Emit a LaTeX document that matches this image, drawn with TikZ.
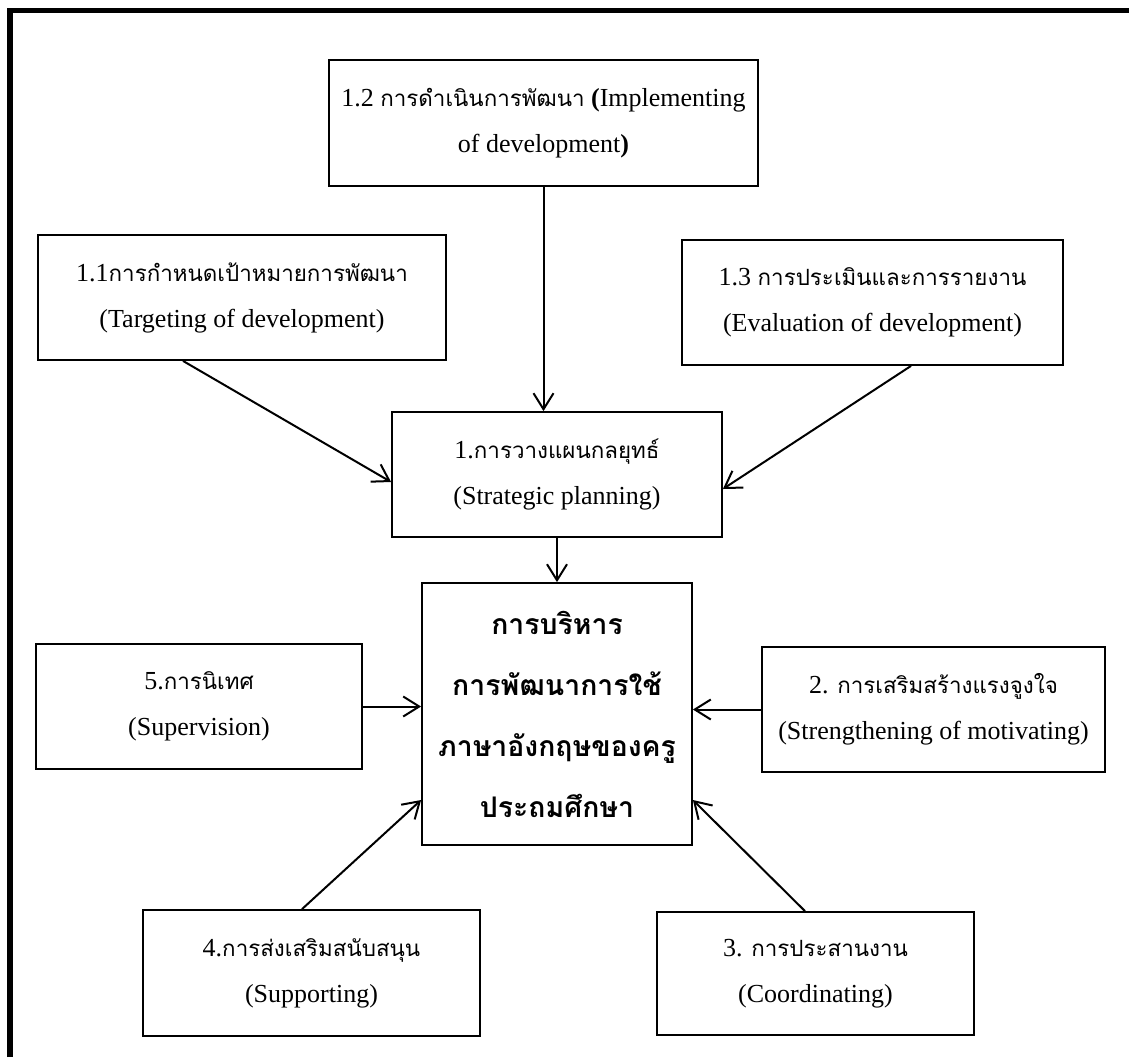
\documentclass[tikz,border=0pt]{standalone}
\usepackage{fontspec}
\setmainfont{Liberation Serif}
\newfontfamily\thaifont[Script=Thai,Scale=0.86]{Loma}
\usetikzlibrary{arrows.meta,calc}
\newcommand{\tht}[1]{{\thaifont #1}}

\begin{document}
\begin{tikzpicture}[x=0.5pt,y=-0.5pt,
	box/.style={draw,line width=0.9pt,align=center,inner sep=0pt,font=\fontsize{13}{23}\selectfont},
	arr/.style={-{Straight Barb[length=8pt,width=10pt]},line width=1pt}]
				\useasboundingbox (0,0) rectangle (1129,1057);
				\draw[line width=2.8pt] (10,1057) -- (10,10.5) -- (1129,10.5);
				\node[box,minimum width=214.5pt,minimum height=63pt] (b12) at (543.5,123) {1.2 \tht{การดำเนินการพัฒนา} \textbf{(}Implementing\\of development\textbf{)}};
				\node[box,minimum width=204pt,minimum height=62.5pt] (b11) at (242,297.5) {1.1\tht{การกำหนดเป้าหมายการพัฒนา}\\(Targeting of development)};
				\node[box,minimum width=190.5pt,minimum height=62.5pt] (b13) at (872.5,302.5) {1.3 \tht{การประเมินและการรายงาน}\\(Evaluation of development)};
				\node[box,minimum width=165pt,minimum height=62.5pt] (b1) at (557,474.5) {1.\tht{การวางแผนกลยุทธ์}\\(Strategic planning)};
				\node[box,minimum width=135pt,minimum height=131pt,font=\fontsize{16.5}{30.5}\selectfont\thaifont\bfseries] (main) at (557,714) {การบริหาร\\การพัฒนาการใช้\\ภาษาอังกฤษของครู\\ประถมศึกษา};
				\node[box,minimum width=163pt,minimum height=62.5pt] (b5) at (199,706.5) {5.\tht{การนิเทศ}\\(Supervision)};
				\node[box,minimum width=171.5pt,minimum height=62.5pt] (b2) at (933.5,709.5) {2. \tht{การเสริมสร้างแรงจูงใจ}\\(Strengthening of motivating)};
				\node[box,minimum width=168.5pt,minimum height=63pt] (b4) at (311.5,973) {4.\tht{การส่งเสริมสนับสนุน}\\(Supporting)};
				\node[box,minimum width=158.5pt,minimum height=61.5pt] (b3) at (815.5,973.5) {3. \tht{การประสานงาน}\\(Coordinating)};
				\draw[arr] (b12.south) -- (b12.south |- b1.north);
				\draw[arr] ($(b11.south)+(-59,0)$) -- ($(b1.west)+(0,7.5)$);
				\draw[arr] ($(b13.south)+(38.5,0)$) -- ($(b1.east)+(0,14.5)$);
				\draw[arr] (b1.south) -- (main.north);
				\draw[arr] (b5.east) -- (main.west |- b5.east);
				\draw[arr] (b2.west) -- (main.east |- b2.west);
				\draw[arr] ($(b4.north)+(-9.5,0)$) -- ($(main.west)+(0,86)$);
				\draw[arr] ($(b3.north)+(-10.5,0)$) -- ($(main.east)+(0,86)$);
\end{tikzpicture}
\end{document}
